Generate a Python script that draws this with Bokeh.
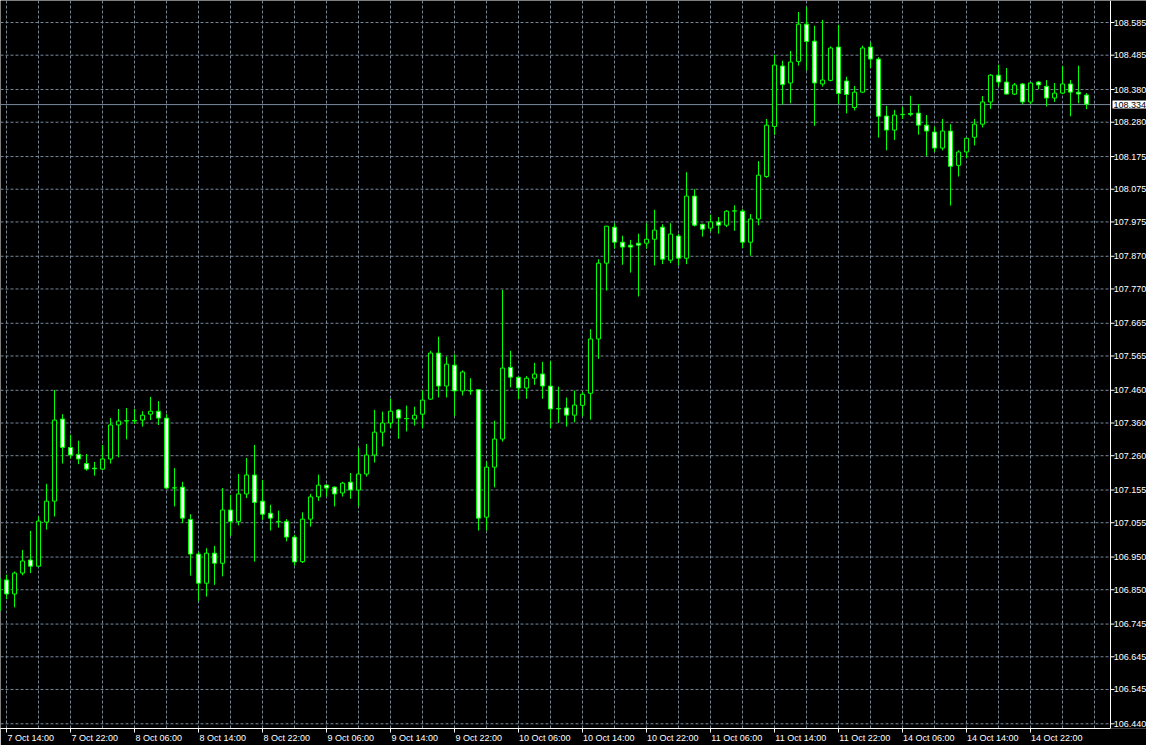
from bokeh.plotting import figure
from bokeh.models import Range1d, FixedTicker, Span, Label, ColumnDataSource
from bokeh.core.properties import value
from bokeh.embed import file_html
from bokeh.resources import INLINE

# Hourly candles; bar 0 = 7 Oct 13:00 (only partly visible at the left edge)
FIRST_BAR = -1
opens = [106.785,
         106.880, 106.837, 106.901, 106.941, 106.922, 107.057, 107.121, 107.372, 107.285, 107.264,
         107.236, 107.222, 107.219, 107.250, 107.354, 107.367, 107.366, 107.369, 107.387, 107.396,
         107.375, 107.161, 107.164, 107.065, 106.959, 106.870, 106.962, 106.931, 107.094, 107.059,
         107.143, 107.201, 107.121, 107.084, 107.059, 107.059, 107.011, 106.936, 107.066, 107.134,
         107.170, 107.164, 107.146, 107.179, 107.155, 107.204, 107.262, 107.332, 107.360, 107.400,
         107.374, 107.372, 107.387, 107.433, 107.574, 107.473, 107.537, 107.458, 107.459, 107.462,
         107.072, 107.225, 107.311, 107.530, 107.500, 107.467, 107.497, 107.510, 107.473, 107.404,
         107.406, 107.384, 107.414, 107.451, 107.617, 107.849, 107.959, 107.913, 107.904, 107.910,
         107.910, 107.922, 107.959, 107.858, 107.932, 107.864, 108.054, 107.968, 107.956, 107.975,
         107.965, 108.008, 108.008, 107.913, 107.984, 108.114, 108.267, 108.452, 108.400, 108.466,
         108.580, 108.528, 108.397, 108.408, 108.510, 108.406, 108.325, 108.372, 108.510, 108.473,
         108.299, 108.256, 108.303, 108.307, 108.308, 108.271, 108.250, 108.201, 108.253, 108.148,
         108.189, 108.234, 108.274, 108.342, 108.424, 108.403, 108.366, 108.397, 108.342, 108.403,
         108.390, 108.354, 108.369, 108.397, 108.372, 108.363]
highs = [106.900,
         106.896, 106.906, 106.972, 107.030, 107.074, 107.174, 107.461, 107.387, 107.324, 107.306,
         107.265, 107.241, 107.293, 107.375, 107.403, 107.406, 107.403, 107.396, 107.440, 107.427,
         107.387, 107.222, 107.180, 107.081, 106.966, 106.977, 106.984, 107.161, 107.140, 107.204,
         107.253, 107.293, 107.186, 107.110, 107.092, 107.066, 107.018, 107.087, 107.143, 107.202,
         107.172, 107.166, 107.180, 107.207, 107.285, 107.296, 107.400, 107.395, 107.434, 107.403,
         107.413, 107.410, 107.459, 107.581, 107.624, 107.563, 107.570, 107.521, 107.497, 107.463,
         107.242, 107.367, 107.767, 107.581, 107.502, 107.504, 107.544, 107.547, 107.550, 107.471,
         107.438, 107.459, 107.456, 107.647, 107.861, 107.963, 107.971, 107.933, 107.920, 107.939,
         107.971, 108.012, 107.968, 107.971, 107.938, 108.127, 108.075, 107.969, 107.997, 107.990,
         108.011, 108.026, 108.014, 107.999, 108.161, 108.290, 108.486, 108.468, 108.498, 108.617,
         108.632, 108.575, 108.593, 108.512, 108.578, 108.419, 108.391, 108.514, 108.524, 108.479,
         108.330, 108.318, 108.327, 108.361, 108.335, 108.302, 108.267, 108.290, 108.274, 108.194,
         108.232, 108.290, 108.360, 108.427, 108.456, 108.446, 108.400, 108.400, 108.403, 108.406,
         108.409, 108.400, 108.452, 108.409, 108.453, 108.369]
lows = [106.780,
        106.821, 106.796, 106.894, 106.901, 106.920, 107.034, 107.074, 107.236, 107.251, 107.234,
        107.214, 107.199, 107.216, 107.236, 107.255, 107.310, 107.357, 107.349, 107.369, 107.354,
        107.158, 107.105, 107.054, 106.893, 106.816, 106.829, 106.865, 106.891, 107.015, 107.047,
        107.130, 106.936, 107.064, 107.031, 107.040, 106.998, 106.924, 106.932, 107.043, 107.122,
        107.135, 107.105, 107.135, 107.128, 107.105, 107.196, 107.239, 107.288, 107.344, 107.312,
        107.334, 107.352, 107.344, 107.431, 107.438, 107.438, 107.381, 107.444, 107.446, 107.031,
        107.031, 107.163, 107.303, 107.469, 107.432, 107.434, 107.477, 107.434, 107.344, 107.360,
        107.349, 107.362, 107.380, 107.370, 107.556, 107.765, 107.893, 107.844, 107.820, 107.747,
        107.893, 107.842, 107.846, 107.849, 107.842, 107.846, 107.961, 107.930, 107.946, 107.939,
        107.959, 107.948, 107.895, 107.872, 107.965, 108.110, 108.241, 108.334, 108.338, 108.453,
        108.438, 108.269, 108.389, 108.405, 108.335, 108.307, 108.316, 108.369, 108.446, 108.233,
        108.194, 108.226, 108.290, 108.298, 108.242, 108.177, 108.189, 108.194, 108.025, 108.114,
        108.170, 108.209, 108.264, 108.321, 108.389, 108.365, 108.363, 108.335, 108.335, 108.381,
        108.328, 108.342, 108.366, 108.298, 108.338, 108.320]
closes = [106.885,
          106.837, 106.901, 106.938, 106.922, 107.060, 107.121, 107.369, 107.285, 107.262, 107.250,
          107.219, 107.220, 107.250, 107.354, 107.366, 107.366, 107.368, 107.384, 107.396, 107.375,
          107.161, 107.162, 107.069, 106.959, 106.870, 106.962, 106.931, 107.094, 107.059, 107.143,
          107.201, 107.117, 107.081, 107.069, 107.058, 107.011, 106.935, 107.066, 107.134, 107.170,
          107.161, 107.143, 107.176, 107.155, 107.204, 107.262, 107.332, 107.360, 107.396, 107.375,
          107.373, 107.384, 107.430, 107.574, 107.473, 107.540, 107.458, 107.516, 107.458, 107.069,
          107.225, 107.311, 107.528, 107.500, 107.467, 107.497, 107.510, 107.473, 107.403, 107.403,
          107.384, 107.415, 107.448, 107.617, 107.849, 107.962, 107.913, 107.898, 107.898, 107.904,
          107.922, 107.950, 107.861, 107.938, 107.864, 108.054, 107.965, 107.953, 107.975, 107.965,
          108.008, 108.009, 107.913, 107.984, 108.118, 108.271, 108.455, 108.395, 108.464, 108.580,
          108.527, 108.400, 108.409, 108.507, 108.368, 108.365, 108.372, 108.507, 108.473, 108.298,
          108.256, 108.302, 108.304, 108.304, 108.271, 108.253, 108.201, 108.253, 108.145, 108.189,
          108.231, 108.274, 108.342, 108.424, 108.403, 108.366, 108.394, 108.342, 108.400, 108.394,
          108.354, 108.369, 108.397, 108.372, 108.366, 108.335]

date_labels = ["7 Oct 14:00", "7 Oct 22:00", "8 Oct 06:00", "8 Oct 14:00", "8 Oct 22:00",
               "9 Oct 06:00", "9 Oct 14:00", "9 Oct 22:00", "10 Oct 06:00", "10 Oct 14:00",
               "10 Oct 22:00", "11 Oct 06:00", "11 Oct 14:00", "11 Oct 22:00", "14 Oct 06:00",
               "14 Oct 14:00", "14 Oct 22:00"]
label_bars = [0, 8, 16, 24, 32, 40, 48, 56, 64, 72, 80, 88, 96, 104, 112, 120, 128]

price_ticks = [106.440, 106.545, 106.645, 106.745, 106.850, 106.950, 107.055, 107.155, 107.260,
               107.360, 107.460, 107.565, 107.665, 107.770, 107.870, 107.975, 108.075, 108.175,
               108.280, 108.380, 108.485, 108.585]
bid_price = 108.334

LIME = "#00ff00"
GRID = "#778899"
FONT = "Liberation Sans"
FONT_SIZE = "9px"

# layout in bar units (8 px per bar)
X_START, X_END = -0.75, 142.5      # visible bar range of the whole plot area
SCALE_X = 138.0                    # where the price scale begins
TICK_LEN = 0.5                     # 4 px price tick marks
LABEL_X = 138.4                    # price labels start

n = len(opens)
xs = [FIRST_BAR + i for i in range(n)]
up = [c >= o for o, c in zip(opens, closes)]
src = ColumnDataSource(dict(
    x=xs, high=highs, low=lows,
    top=[max(o, c) for o, c in zip(opens, closes)],
    bottom=[min(o, c) for o, c in zip(opens, closes)],
    fill=["black" if u else "white" for u in up],
))

p = figure(frame_width=1146, frame_height=728, output_backend="svg", toolbar_location=None,
           x_range=Range1d(X_START, X_END), y_range=Range1d(106.4256, 108.6523),
           y_axis_location=None,
           min_border_left=0, min_border_top=0, min_border_right=0, min_border_bottom=14,
           background_fill_color="black", border_fill_color="black", outline_line_color=None)

# the default horizontal grid is replaced by lines that stop at the price scale
for g in p.ygrid:
    g.visible = False

# vertical grid every 4 bars
p.xgrid[0].ticker = FixedTicker(ticks=list(range(0, int(SCALE_X), 4)))
p.xgrid[0].grid_line_color = GRID
p.xgrid[0].grid_line_dash = "3 2"

# horizontal grid at every price level, stopping at the price scale
gsrc = ColumnDataSource(dict(y=price_ticks, x0=[X_START] * len(price_ticks),
                             x1=[SCALE_X] * len(price_ticks),
                             t1=[SCALE_X + TICK_LEN] * len(price_ticks),
                             lx=[LABEL_X] * len(price_ticks),
                             label=["%.3f" % v for v in price_ticks]))
p.segment(x0="x0", y0="y", x1="x1", y1="y", source=gsrc, line_color=GRID,
          line_dash="3 2", line_width=1)

# bid line
p.segment(x0=[X_START], y0=[bid_price], x1=[SCALE_X], y1=[bid_price],
          line_color=GRID, line_width=1)

# time axis: short tick marks at the labelled bars, labels starting at their tick
centers = [b + (len(s) * 4.3 + 1.0) / 16.0 for b, s in zip(label_bars, date_labels)]
xa = p.xaxis[0]
xa.bounds = (X_START, SCALE_X)
xa.ticker = FixedTicker(ticks=centers, minor_ticks=label_bars)
xa.major_label_overrides = {c: s for c, s in zip(centers, date_labels)}
xa.major_tick_line_color = None
xa.major_tick_out = 4
xa.major_tick_in = 0
xa.minor_tick_line_color = "white"
xa.minor_tick_out = 4
xa.minor_tick_in = 0
xa.axis_line_color = "white"
xa.major_label_standoff = 0
xa.major_label_text_color = "white"
xa.major_label_text_font = FONT
xa.major_label_text_font_size = FONT_SIZE

# candles
p.segment(x0="x", y0="low", x1="x", y1="high", source=src, line_color=LIME, line_width=1)
p.vbar(x="x", top="top", bottom="bottom", width=0.5, source=src,
       fill_color="fill", line_color=LIME, line_width=1)

# price scale: line, tick marks and labels
p.add_layout(Span(location=SCALE_X, dimension="height", line_color="white", line_width=1))
p.segment(x0="x1", y0="y", x1="t1", y1="y", source=gsrc, line_color="white", line_width=1)
p.text(x="lx", y="y", text="label", source=gsrc, text_color="white",
       text_font=value(FONT), text_font_size=value(FONT_SIZE),
       text_align="left", text_baseline="middle")

# bid price tag on the price scale
p.add_layout(Label(x=SCALE_X + 0.25, y=bid_price, text="%.3f" % bid_price, text_font=FONT,
                   text_font_size=FONT_SIZE, text_color="black", text_align="left",
                   text_baseline="middle", background_fill_color="white", padding=1))

open("out.html", "w").write(file_html(p, INLINE))
